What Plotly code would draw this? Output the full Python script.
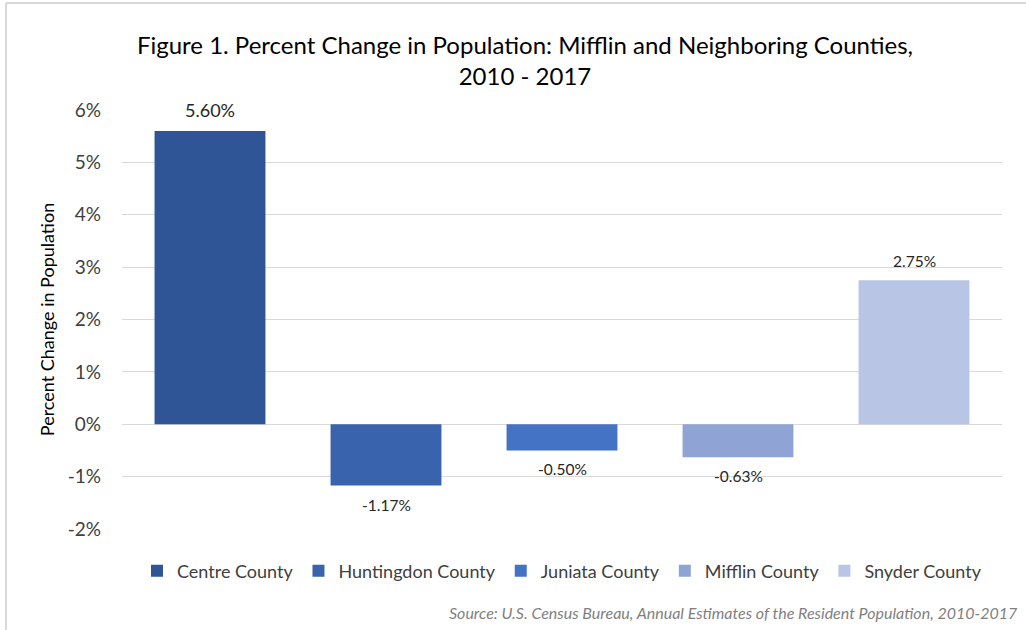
import plotly.graph_objects as go

counties = ["Centre County", "Huntingdon County", "Juniata County", "Mifflin County", "Snyder County"]
pct_change = [5.60, -1.17, -0.50, -0.63, 2.75]
bar_colors = ["#2F5597", "#3A63AD", "#4472C4", "#8FA4D4", "#B9C5E4"]
label_sizes = [18, 15.5, 15.5, 15.5, 15.5]
y_ticks = [-2, -1, 0, 1, 2, 3, 4, 5, 6]
y_tick_labels = ["-2%", "-1%", "0%", "1%", "2%", "3%", "4%", "5%", "6%"]

FONT = "Lato, 'Open Sans', sans-serif"

W, H = 1026, 630
L, R, T, B = 122, 24, 110, 101
PW, PH = W - L - R, H - T - B

fig = go.Figure()
for name, val, col, ls in zip(counties, pct_change, bar_colors, label_sizes):
    fig.add_trace(go.Bar(
        x=[name], y=[val], name=name,
        marker=dict(color=col, line=dict(width=0)),
        width=0.63, hoverinfo="skip",
    ))
    fig.add_annotation(
        x=name, y=val, xref="x", yref="y", text=f"{val:.2f}%", showarrow=False,
        yanchor="bottom" if val >= 0 else "top", yshift=8 if val >= 0 else -8,
        font=dict(size=ls, color="#262626", family=FONT),
    )

fig.update_layout(
    width=W, height=H,
    margin=dict(l=L, r=R, t=T, b=B),
    paper_bgcolor="white", plot_bgcolor="white",
    barmode="overlay",
    font=dict(family=FONT, color="#404040"),
    title=dict(
        text="Figure 1. Percent Change in Population: Mifflin and Neighboring Counties,<br>2010 - 2017",
        x=525 / W, xanchor="center", y=1 - 54 / H, yanchor="middle", yref="container",
        font=dict(size=24, color="#000000", family=FONT),
    ),
    xaxis=dict(showticklabels=False, showgrid=False, zeroline=False, showline=False,
               categoryorder="array", categoryarray=counties),
    yaxis=dict(range=[-2, 6], tickvals=y_ticks, ticktext=y_tick_labels,
               showgrid=True, gridcolor="#D9D9D9", gridwidth=1,
               zeroline=True, zerolinecolor="#D9D9D9", zerolinewidth=1,
               showline=False, ticks="", ticklabelstandoff=20,
               tickfont=dict(size=19, color="#404040"),
               title=dict(text="Percent Change in Population", standoff=8,
                          font=dict(size=18, color="#000000"))),
    legend=dict(orientation="h", x=0.5, xanchor="center", y=-42 / PH, yanchor="middle",
                font=dict(size=18, color="#404040"), itemwidth=30, traceorder="normal",
                itemclick=False, itemdoubleclick=False),
    showlegend=True,
)

fig.add_annotation(
    text="Source: U.S. Census Bureau, Annual Estimates of the Resident Population, 2010-2017",
    xref="paper", yref="paper", x=(1020 - L) / PW, y=-(612 - (H - B)) / PH,
    xanchor="right", yanchor="middle", showarrow=False,
    font=dict(size=16, color="#7F7F7F", family=FONT, style="italic"),
)

# light frame lines at top and left edges
fig.add_shape(type="line", xref="paper", yref="paper",
              x0=(6 - L) / PW, x1=(6 - L) / PW, y0=-B / PH, y1=1 + (T - 3) / PH,
              line=dict(color="#D9D9D9", width=2))
fig.add_shape(type="line", xref="paper", yref="paper",
              x0=(6 - L) / PW, x1=1 + R / PW, y0=1 + (T - 3) / PH, y1=1 + (T - 3) / PH,
              line=dict(color="#D9D9D9", width=2))

fig.write_html("out.html", config={"displayModeBar": False},
               post_script="document.body.style.margin='0';document.body.style.padding='0';")
